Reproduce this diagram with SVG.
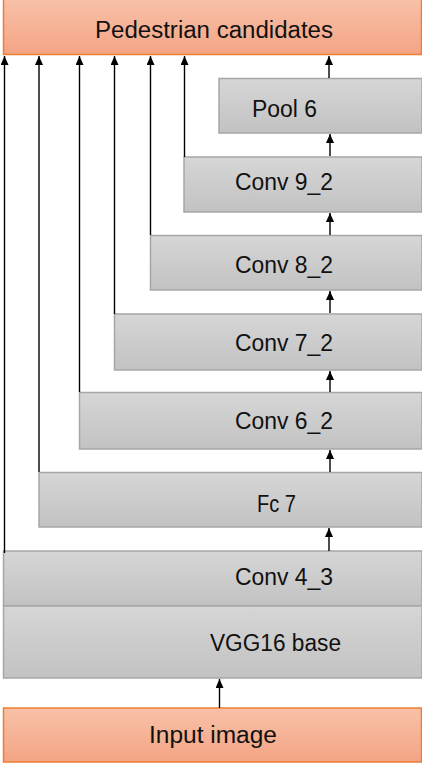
<svg xmlns="http://www.w3.org/2000/svg" width="422" height="764" viewBox="0 0 422 764">
<defs>
<linearGradient id="gGray" x1="0" y1="0" x2="0" y2="1">
<stop offset="0" stop-color="#D6D6D6"/>
<stop offset="1" stop-color="#C2C2C2"/>
</linearGradient>
<linearGradient id="gOrange" x1="0" y1="0" x2="0" y2="1">
<stop offset="0" stop-color="#F8C1A8"/>
<stop offset="1" stop-color="#F4A484"/>
</linearGradient>
<marker id="arr" viewBox="0 0 9 8" refX="9" refY="4" markerWidth="9" markerHeight="8" markerUnits="userSpaceOnUse" orient="auto">
<path d="M0,0 L9,4 L0,8 Z" fill="#000"/>
</marker>
</defs>
<style>
.gray{fill:url(#gGray);stroke:#A6A6A6;stroke-width:1.5}
.orange{fill:url(#gOrange);stroke:#ED7D31;stroke-width:1.5}
.lbl{font-family:"Liberation Sans",Arial,sans-serif;font-size:23px;fill:#111}
.con{stroke:#000;stroke-width:1.4;fill:none}
</style>
<g id="pedestrian">
<rect class="orange" x="3.5" y="-1" width="418" height="55.5"/>
<text class="lbl" x="95" y="38" textLength="238" lengthAdjust="spacingAndGlyphs">Pedestrian candidates</text>
</g>
<g id="pool6">
<rect class="gray" x="219" y="78.5" width="203" height="54.5"/>
<text class="lbl" x="252" y="117" textLength="65" lengthAdjust="spacingAndGlyphs">Pool 6</text>
</g>
<g id="conv9_2">
<rect class="gray" x="184" y="157" width="238" height="55"/>
<text class="lbl" x="235" y="190" textLength="98" lengthAdjust="spacingAndGlyphs">Conv 9_2</text>
</g>
<g id="conv8_2">
<rect class="gray" x="150.5" y="235.5" width="271.5" height="54.5"/>
<text class="lbl" x="235" y="273" textLength="98" lengthAdjust="spacingAndGlyphs">Conv 8_2</text>
</g>
<g id="conv7_2">
<rect class="gray" x="114.5" y="314" width="307.5" height="56"/>
<text class="lbl" x="235" y="351" textLength="98" lengthAdjust="spacingAndGlyphs">Conv 7_2</text>
</g>
<g id="conv6_2">
<rect class="gray" x="79.5" y="392.5" width="342.5" height="56.5"/>
<text class="lbl" x="235" y="429" textLength="98" lengthAdjust="spacingAndGlyphs">Conv 6_2</text>
</g>
<g id="fc7">
<rect class="gray" x="39" y="472.5" width="383" height="54.5"/>
<text class="lbl" x="257" y="512" textLength="39" lengthAdjust="spacingAndGlyphs">Fc 7</text>
</g>
<g id="conv4_3">
<rect class="gray" x="3.5" y="551" width="418.5" height="55"/>
<text class="lbl" x="235" y="585" textLength="98" lengthAdjust="spacingAndGlyphs">Conv 4_3</text>
</g>
<g id="vgg16">
<rect class="gray" x="3.5" y="606" width="418.5" height="72"/>
<text class="lbl" x="210" y="651" textLength="131" lengthAdjust="spacingAndGlyphs">VGG16 base</text>
</g>
<g id="input">
<rect class="orange" x="3.5" y="708" width="418" height="54"/>
<text class="lbl" x="149" y="743" textLength="128" lengthAdjust="spacingAndGlyphs">Input image</text>
</g>
<g id="connectors">
<line class="con" x1="4.5" y1="553" x2="4.5" y2="56" marker-end="url(#arr)"/>
<line class="con" x1="39" y1="472" x2="39" y2="56" marker-end="url(#arr)"/>
<line class="con" x1="79.5" y1="392" x2="79.5" y2="56" marker-end="url(#arr)"/>
<line class="con" x1="114.5" y1="314" x2="114.5" y2="56" marker-end="url(#arr)"/>
<line class="con" x1="150.5" y1="235" x2="150.5" y2="56" marker-end="url(#arr)"/>
<line class="con" x1="184.5" y1="157" x2="184.5" y2="56" marker-end="url(#arr)"/>
<line class="con" x1="329" y1="78" x2="329" y2="56" marker-end="url(#arr)"/>
<line class="con" x1="330" y1="156" x2="330" y2="134" marker-end="url(#arr)"/>
<line class="con" x1="330" y1="235" x2="330" y2="213" marker-end="url(#arr)"/>
<line class="con" x1="330" y1="313" x2="330" y2="291" marker-end="url(#arr)"/>
<line class="con" x1="330" y1="392" x2="330" y2="371" marker-end="url(#arr)"/>
<line class="con" x1="330" y1="472" x2="330" y2="450" marker-end="url(#arr)"/>
<line class="con" x1="329" y1="551" x2="329" y2="528" marker-end="url(#arr)"/>
<line class="con" x1="219.5" y1="708" x2="219.5" y2="679" marker-end="url(#arr)"/>
</g>
</svg>
